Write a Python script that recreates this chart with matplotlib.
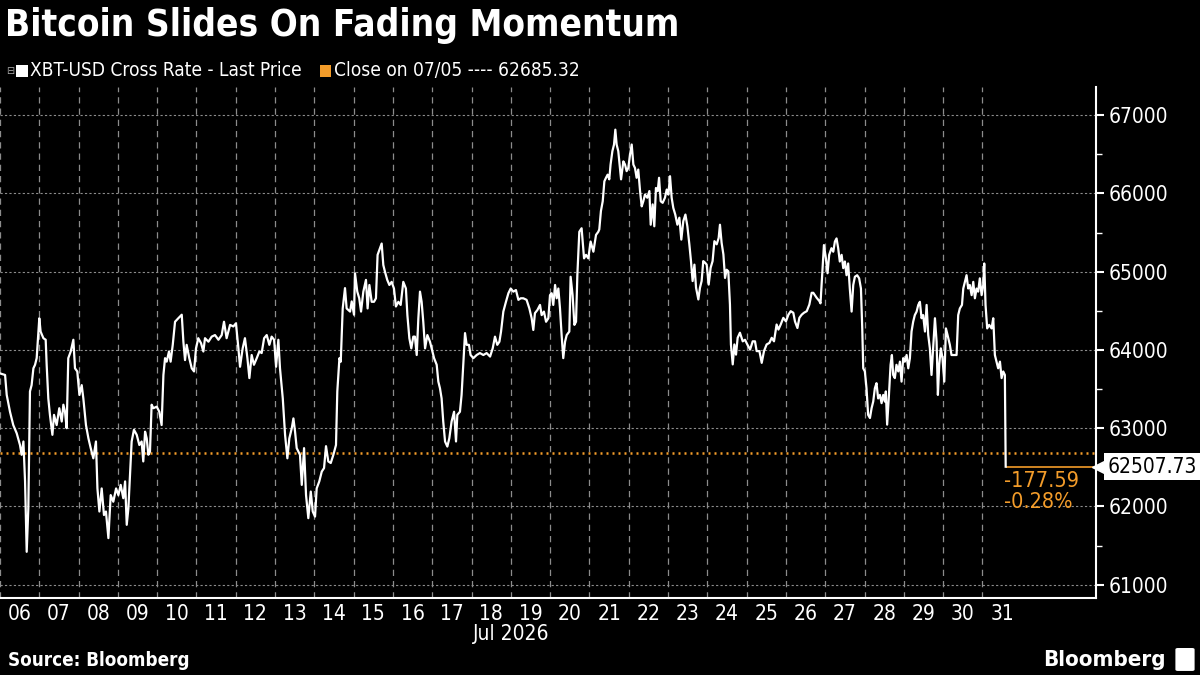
import matplotlib
matplotlib.use("Agg")
import matplotlib.pyplot as plt
import matplotlib.dates as mdates
import matplotlib.transforms as mtransforms
from matplotlib.patches import Rectangle, FancyBboxPatch
from matplotlib.ticker import FixedLocator, MultipleLocator, NullFormatter
import pandas as pd

# hours since 2026-07-06 00:00 and the XBT-USD price
hours = [
    0.0, 3.1, 4.1, 6.1, 8.1, 10.2, 12.2, 13.2, 14.3, 15.3,
    16.3, 17.3, 18.3, 19.3, 20.4, 21.4, 22.4, 24.0, 24.8, 26.5,
    27.9, 28.5, 29.5, 30.5, 32.0, 33.0, 34.6, 36.2, 37.7, 38.7,
    39.7, 40.7, 41.7, 43.2, 44.8, 45.8, 47.2, 48.5, 49.9, 50.9,
    52.5, 54.0, 55.4, 57.0, 58.6, 59.5, 60.7, 62.1, 63.5, 64.7,
    66.2, 67.6, 69.2, 70.9, 72.3, 73.7, 75.3, 76.4, 77.4, 78.4,
    79.4, 80.4, 81.8, 83.5, 85.1, 86.5, 87.5, 88.6, 89.6, 90.6,
    91.6, 92.6, 93.7, 95.7, 97.3, 98.7, 99.8, 100.8, 101.8, 103.2,
    104.2, 105.5, 106.9, 108.9, 111.0, 112.0, 113.0, 114.0, 115.6, 117.1,
    118.5, 119.7, 121.1, 122.8, 124.2, 125.2, 127.3, 129.3, 131.3, 133.4,
    135.4, 136.8, 138.4, 140.5, 142.5, 144.1, 145.6, 146.6, 148.2, 149.6,
    151.1, 152.3, 153.7, 155.1, 156.8, 158.4, 159.8, 161.3, 162.9, 164.5,
    165.9, 167.4, 168.6, 170.0, 171.0, 172.7, 174.1, 175.5, 176.7, 178.2,
    179.2, 180.2, 181.2, 183.2, 184.3, 185.7, 186.9, 188.3, 189.8, 191.0,
    192.4, 193.4, 195.0, 196.5, 197.9, 199.1, 200.5, 202.0, 203.6, 205.2,
    206.0, 207.3, 208.1, 209.3, 210.7, 211.7, 213.8, 214.8, 216.2,
    216.8, 218.2, 219.4, 220.5, 221.9, 223.5, 224.5, 225.6, 227.0, 228.4,
    229.6, 230.6, 232.1, 233.1, 234.1, 235.1, 236.5, 237.8, 239.2, 240.6,
    241.8, 243.3, 244.7, 246.3, 247.9, 248.8, 250.0, 251.2, 252.4, 253.4,
    254.5, 255.5, 256.5, 257.5, 258.5, 259.6, 261.0, 262.6, 263.6, 265.1,
    266.7, 267.7, 268.7, 269.7, 270.7, 271.8, 273.2, 274.4, 275.8, 277.3,
    278.5, 279.3, 280.9, 281.9, 283.0, 284.0, 285.0, 286.4, 287.4, 289.1,
    291.1, 293.1, 295.2, 297.2, 299.3, 300.9, 302.3, 303.7, 305.0, 306.0,
    307.4, 309.0, 310.5, 311.9, 313.5, 315.1, 316.6, 318.0, 319.6, 321.6,
    323.3, 324.7, 325.7, 326.7, 328.2, 329.8, 330.8, 332.2, 333.5, 334.9,
    335.9, 336.9, 337.9, 339.0, 340.0, 341.0, 342.0, 343.0, 344.0, 345.1,
    346.1, 347.7, 348.5, 349.7, 350.8, 351.8, 352.6, 353.8, 355.2, 356.7,
    357.9, 359.3, 360.7, 362.4, 364.0, 365.4,
    366.0, 367.0, 368.1, 369.1, 370.1, 371.1, 372.1, 372.9, 374.0, 375.0,
    375.8, 376.6, 377.6, 378.6, 379.3, 380.7, 381.7, 382.7, 383.7, 384.8,
    385.8, 386.8, 387.8, 388.8, 389.8, 390.9, 391.9, 392.9, 393.9, 395.3,
    396.6, 397.4, 398.6, 399.6, 400.6, 401.7, 402.5, 403.5, 404.7, 406.1,
    407.2, 408.2, 409.2, 410.2, 411.2, 412.4, 413.7, 414.9, 416.1, 417.3,
    418.6, 419.8, 421.0, 422.0, 423.0, 424.1, 425.1, 426.5, 427.5, 428.5,
    429.5, 430.6, 431.6, 432.8, 434.0, 435.2, 436.3, 437.7, 438.9, 439.7,
    440.7, 441.8, 442.8, 443.8, 444.8, 445.8, 446.4, 447.5, 448.5, 449.5,
    450.5, 451.9, 453.6, 455.0, 456.4, 458.1, 459.7, 461.1, 462.1, 463.8,
    465.2, 466.6, 468.2, 469.9, 471.3, 472.7, 474.3, 475.4, 476.8, 478.4,
    480.0, 481.5, 482.9, 484.5, 485.5, 487.0, 488.2, 489.6, 491.0, 492.7,
    494.3, 495.7, 496.7, 498.8, 500.4,
    501.1, 502.1, 503.2, 504.4, 505.4, 506.4, 507.8, 508.9, 509.9, 510.9,
    511.9, 512.9, 514.0, 515.0, 516.0, 517.0, 518.0, 519.0, 520.1, 521.1,
    522.1, 523.5, 524.7, 525.8, 526.6, 527.2, 528.2, 529.2, 530.2, 531.3,
    532.3, 533.3, 534.3, 535.3, 536.3, 537.4, 538.4, 539.4, 540.4, 541.0,
    541.8, 542.9, 543.9, 544.7, 545.5, 546.5, 547.5, 548.6, 549.6, 550.6,
    551.6, 552.6, 553.7, 554.7, 555.7, 556.7, 557.7, 558.7, 559.8, 560.8,
    561.8, 562.8, 563.8, 564.9, 565.9, 566.9, 567.9, 568.9, 569.9, 571.0,
    572.0, 572.8, 573.6, 574.6, 575.6, 576.7, 577.7, 578.7, 580.1, 581.1,
    582.6, 584.2, 585.2, 586.2, 587.5, 588.3, 589.3, 590.3, 591.3, 592.3,
    593.4, 594.4, 595.4, 596.4, 597.4, 598.4, 599.5, 600.5, 601.1, 601.9,
    602.9, 604.1, 605.6, 606.6, 607.6, 608.6, 609.6, 610.7, 611.7, 612.7,
    613.7, 614.2,
]

price = [
    63700, 63680, 63425, 63210, 63040, 62935, 62785, 62660, 62830, 62320,
    61420, 61975, 63470, 63550, 63765, 63810, 63895, 64405, 64235, 64150,
    64130, 63810, 63380, 63170, 62915, 63170, 63040, 63255, 63085, 63300,
    63210, 63000, 63895, 63980, 64130, 63765, 63725, 63425, 63550, 63380,
    63040, 62870, 62745, 62615, 62830, 62230, 61935, 62230, 61890, 61935,
    61595, 62145, 62060, 62230, 62145, 62275, 62105, 62320, 61765, 61975,
    62400, 62830, 62980, 62915, 62785, 62830, 62575, 62955, 62870, 62660,
    62700, 63300, 63255, 63275, 63210, 63040, 63680, 63895, 63850, 63980,
    63850, 64065, 64360, 64405, 64450, 64105, 63870, 64065, 63895, 63765,
    63725, 64020, 64150, 64085, 63980, 64150, 64105, 64170, 64190, 64130,
    64190, 64360, 64150, 64320, 64300, 64340, 64020, 63785, 64020, 64150,
    63895, 63640, 63935, 63810, 63895, 63980, 63960, 64150, 64190, 64065,
    64170, 64130, 63785, 64130, 63765, 63380, 62915, 62615, 62870, 63000,
    63125, 62955, 62745, 62660, 62275, 62745, 62145, 61850, 62190, 61935,
    61870, 62230, 62320, 62445, 62490, 62770, 62575, 62555, 62660, 62785,
    63470, 63895, 63850, 64530, 64790, 64530, 64490, 64620, 64450,
    64980, 64745, 64660, 64490, 64745, 64895, 64530, 64830, 64615, 64615,
    64660, 65215, 65300, 65360, 65085, 65000, 64895, 64830, 64870, 64785,
    64555, 64615, 64575, 64870, 64785, 64445, 64150, 64020, 64170, 64170,
    63935, 64405, 64745, 64615, 64360, 64020, 64190, 64105, 64020, 63895,
    63810, 63595, 63510, 63380, 63085, 62830, 62765, 62870, 63085, 63210,
    62830, 63170, 63210, 63425, 63850, 64215, 64065, 64065, 63935, 63895,
    63935, 63960, 63935, 63960, 63915, 64020, 64170, 64065, 64105, 64235,
    64490, 64615, 64725, 64785, 64745, 64765, 64640, 64660, 64660, 64640,
    64530, 64405, 64255, 64470, 64510, 64575, 64445, 64490, 64360, 64405,
    64700, 64725, 64575, 64830, 64660, 64785, 64530, 64190, 63895, 64105,
    64190, 64235, 64935, 64700, 64320, 64360, 64955, 65510, 65555, 65170,
    65215, 65170, 65385, 65255, 65470, 65510,
    65540, 65775, 65900, 66155, 66200, 66240, 66180, 66370, 66540, 66625,
    66815, 66625, 66540, 66325, 66180, 66410, 66370, 66285, 66325, 66500,
    66625, 66370, 66325, 66200, 66305, 66030, 65835, 65900, 65985, 65945,
    66030, 65600, 65860, 65580, 66070, 66030, 66200, 65900, 65880, 65945,
    66050, 65985, 66220, 65945, 65815, 65730, 65600, 65690, 65410, 65645,
    65730, 65580, 65350, 65135, 64880, 65090, 64795, 64645, 64795, 64880,
    65135, 65115, 65090, 64835, 65050, 65135, 65390, 65350, 65430, 65600,
    65370, 65220, 64920, 65025, 65005, 64580, 64070, 63815, 64070, 63940,
    64155, 64220, 64110, 64130, 64070, 64005, 64110, 64110, 63985, 63985,
    63835, 63985, 64070, 64090, 64155, 64110, 64325, 64260, 64325, 64410,
    64365, 64450, 64495, 64475, 64365, 64280, 64410, 64450, 64475, 64495,
    64580, 64730, 64730, 64665, 64625,
    64595, 64955, 65340, 65170, 64980, 65215, 65300, 65255, 65385, 65425,
    65300, 65130, 65215, 65045, 65130, 64955, 65105, 64785, 64490, 64830,
    64935, 64955, 64915, 64785, 64275, 63765, 63725, 63510, 63170, 63130,
    63255, 63340, 63510, 63575, 63380, 63425, 63320, 63425, 63340, 63470,
    63045, 63425, 63810, 63935, 63680, 63640, 63810, 63725, 63850, 63595,
    63895, 63850, 63935, 63765, 63895, 64235, 64360, 64445, 64490, 64575,
    64615, 64405, 64445, 64235, 64575, 64190, 64020, 63680, 64020, 64405,
    64105, 63425, 63810, 64020, 63895, 63595, 64275, 64190, 64065, 63935,
    63935, 63935, 64445, 64530, 64575, 64785, 64870, 64955, 64785, 64830,
    64700, 64870, 64660, 64785, 64745, 64915, 64700, 64830, 65105, 64575,
    64275, 64320, 64275, 64405, 63935, 63850, 63765, 63850, 63640, 63725,
    63680, 62507.73,
]

start = pd.Timestamp("2026-07-06")
label_days = pd.date_range("2026-07-06", "2026-07-31", freq="D")
x_end = pd.Timestamp("2026-08-02 21:20")
y_ticks = [61000, 62000, 63000, 64000, 65000, 66000, 67000]

prev_close = 62685.32
last_price = price[-1]
change = -177.59
change_pct = -0.28

series_name = "XBT-USD Cross Rate - Last Price"
close_label = "Close on 07/05 ---- 62685.32"

ORANGE = "#F39C2A"
GRID = "#8c8c8c"

times = start + pd.to_timedelta(hours, unit="h")

fig = plt.figure(figsize=(12, 6.75), dpi=100, facecolor="black")
ax = fig.add_axes([0.0, 0.1141, 0.9133, 0.757])
ax.set_facecolor("black")

ax.plot(times, price, color="white", lw=1.6, zorder=3)
ax.axhline(prev_close, color=ORANGE, lw=1.8, linestyle=(0, (0.8, 1.6)), zorder=2)
ax.hlines(last_price, times[-1], x_end, color=ORANGE, lw=1.2, zorder=2)

ax.set_xlim(start, x_end)
ax.set_ylim(60830, 67360)

# day boundary grid and labels at midday
ax.xaxis.set_major_locator(FixedLocator(mdates.date2num(label_days)))
ax.xaxis.set_major_formatter(NullFormatter())
ax.xaxis.set_minor_locator(FixedLocator(mdates.date2num(label_days + pd.Timedelta(hours=12))))
ax.xaxis.set_minor_formatter(mdates.DateFormatter("%d"))
ax.tick_params(axis="x", which="both", length=0, colors="white")
ax.tick_params(axis="x", which="minor", labelsize=15, pad=4)
for lab in ax.get_xticklabels(minor=True):
    lab.set_fontstretch("condensed")

ax.yaxis.tick_right()
ax.set_yticks(y_ticks)
ax.yaxis.set_minor_locator(MultipleLocator(500))
ax.yaxis.set_major_formatter(matplotlib.ticker.FuncFormatter(lambda v, p: f"{v:.0f}"))
ax.tick_params(axis="y", which="major", length=6, width=1.5, colors="white", labelsize=15, pad=3)
ax.tick_params(axis="y", which="minor", length=4, width=1, colors="white")
for lab in ax.get_yticklabels():
    lab.set_fontstretch("condensed")

for d in label_days:
    ax.axvline(d, color=GRID, lw=0.9, linestyle=(0, (5, 4)), zorder=1)
ax.grid(axis="y", which="major", color=GRID, lw=0.8, linestyle=(0, (2, 2)))
ax.grid(axis="x", visible=False)

for side in ["top", "left"]:
    ax.spines[side].set_visible(False)
ax.spines["right"].set_color("white")
ax.spines["right"].set_linewidth(1.5)
ax.spines["bottom"].set_color("white")
ax.spines["bottom"].set_linewidth(1.5)

mid = label_days[0] + (label_days[-1] + pd.Timedelta(days=1) - label_days[0]) / 2
ax.text(mid, -0.07, "Jul 2026", transform=mtransforms.blended_transform_factory(ax.transData, ax.transAxes),
        ha="center", va="center", color="white", fontsize=15, fontstretch="condensed")

# change annotation below the last point
ax.annotate(f"{change:.2f}\n{change_pct:.2f}%", xy=(times[-1], last_price), xytext=(-1, -3),
            textcoords="offset points", ha="left", va="top", color=ORANGE, fontsize=15.5,
            fontstretch="condensed", linespacing=1.05)

# last price flag on the right axis
trans = mtransforms.blended_transform_factory(ax.transAxes, ax.transData)
ax.text(1.011, last_price, f"{last_price:.2f}", transform=trans, ha="left", va="center",
        color="black", fontsize=15, fontstretch="condensed", clip_on=False, zorder=6,
        bbox=dict(boxstyle="square,pad=0.18", fc="white", ec="none"))
ax.plot([1.004], [last_price], marker="<", ms=12, color="white", mec="white",
        transform=trans, clip_on=False, zorder=6)

# title and legend
fig.text(0.004, 0.962, "Bitcoin Slides On Fading Momentum", color="white", fontsize=26.5,
         fontweight="bold", fontstretch="condensed", ha="left", va="center")
fig.text(0.0055, 0.895, "\u229f", color="#aaaaaa", fontsize=7, ha="left", va="center")
fig.patches.append(Rectangle((0.0135, 0.8865), 0.0095, 0.0175, transform=fig.transFigure,
                             fc="white", ec="none"))
fig.text(0.025, 0.896, series_name, color="white", fontsize=13.7, fontstretch="condensed",
         ha="left", va="center")
fig.patches.append(Rectangle((0.2667, 0.8865), 0.0095, 0.0175, transform=fig.transFigure,
                             fc=ORANGE, ec="none"))
fig.text(0.2785, 0.896, close_label, color="white", fontsize=13.7, fontstretch="condensed",
         ha="left", va="center")

fig.text(0.007, 0.021, "Source: Bloomberg", color="white", fontsize=13.5, fontweight="bold",
         fontstretch="condensed", ha="left", va="center")
fig.text(0.9717, 0.022, "Bloomberg", color="white", fontsize=16, fontweight="bold",
         fontstretch="condensed", ha="right", va="center")
fig.patches.append(FancyBboxPatch((0.9815, 0.008), 0.012, 0.03, boxstyle="round,pad=0.002",
                                  transform=fig.transFigure, fc="white", ec="none"))

fig.savefig("out.png", dpi=100, facecolor="black")
